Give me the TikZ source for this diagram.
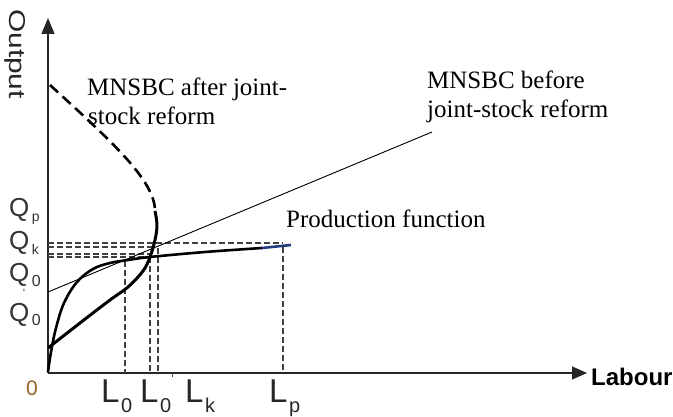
\documentclass[tikz,border=0pt]{standalone}
\usepackage{fontspec}
\setmainfont{Liberation Serif}
\newfontfamily\lsans{Liberation Sans}
\usetikzlibrary{arrows.meta}
\definecolor{pfblue}{RGB}{35,60,125}
\definecolor{origclr}{RGB}{150,100,40}
\begin{document}
\begin{tikzpicture}[x=1pt,y=-1pt,line join=round]
\tikzset{
  axisline/.style={line width=1.2pt, black!85},
  guide/.style={line width=1.1pt, dash pattern=on 6pt off 3pt, black!75},
  prodcurve/.style={line width=2.6pt},
  aftercurve/.style={line width=3pt},
  afterdash/.style={line width=2.6pt, dash pattern=on 11pt off 6pt},
  beforeline/.style={line width=0.9pt},
  serif/.style={font=\fontsize{25}{29}\selectfont, inner sep=0pt, anchor=base west},
  qlab/.style={font=\lsans\fontsize{26}{26}\selectfont, inner sep=0pt, anchor=base west, text=black!80},
  llab/.style={font=\lsans\fontsize{33}{33}\selectfont, inner sep=0pt, anchor=base west, text=black!85},
}
\useasboundingbox (0,0) rectangle (673,417);
\fill[white] (0,0) rectangle (673,417);

% axes
\coordinate (O) at (48,373);
\coordinate (ytop) at (48,18);
\coordinate (xend) at (587,373);
\draw[axisline,-{Triangle[length=16pt,width=13pt]}] (O) -- (ytop);
\draw[axisline,-{Triangle[length=15pt,width=13pt]}] (O) -- (xend);
\coordinate (tk1) at (172,373);
\coordinate (tk2) at (172,377);
\draw[line width=1pt, black!70] (tk1) -- (tk2);

% guide lines
\coordinate (h1a) at (48,243); \coordinate (h1b) at (283,243);
\coordinate (h2a) at (48,247); \coordinate (h2b) at (155,247);
\coordinate (h3a) at (48,254); \coordinate (h3b) at (150,254);
\coordinate (h4a) at (48,257); \coordinate (h4b) at (148,257);
\draw[guide] (h1a) -- (h1b);
\draw[guide] (h2a) -- (h2b);
\draw[guide] (h3a) -- (h3b);
\draw[guide] (h4a) -- (h4b);
\coordinate (v1a) at (125,261); \coordinate (v1b) at (125,373);
\coordinate (v2a) at (150,257); \coordinate (v2b) at (150,373);
\coordinate (v3a) at (158,248); \coordinate (v3b) at (158,373);
\coordinate (v4a) at (283,247); \coordinate (v4b) at (283,373);
\draw[guide] (v1a) -- (v1b);
\draw[guide] (v2a) -- (v2b);
\draw[guide] (v3a) -- (v3b);
\draw[guide] (v4a) -- (v4b);

% MNSBC before
\coordinate (b1) at (48,292);
\coordinate (b2) at (432,132);
\draw[beforeline] (b1) -- (b2);

% production function
\draw[prodcurve] plot[smooth,tension=0.6] coordinates {(48,372) (51,352) (56,328) (64,303) (77,282) (93,269) (110,263) (128,260) (150,257) (205,252) (262,248)};
\coordinate (pf1) at (262,248);
\coordinate (pf2) at (291,245);
\draw[prodcurve, pfblue] (pf1) -- (pf2);

% MNSBC after
\draw[aftercurve] plot[smooth,tension=0.6] coordinates {(48,348) (80,323) (110,300) (128,287) (143,271) (150,257) (155,240) (157,225) (155,211)};
\coordinate (d1) at (50,85);
\coordinate (d2) at (155,211);
\draw[afterdash] (d1) .. controls (110,140) and (155,180) .. (d2);

% texts
\node[serif] (afterA) at (87,96) {MNSBC after joint-};
\node[serif] (afterB) at (88,125) {stock reform};
\node[serif] (beforeA) at (427,89) {MNSBC before};
\node[serif] (beforeB) at (427,118) {joint-stock reform};
\node[serif] (pflab) at (286,228) {Production function};

\node[qlab] (qp) at (9,217) {Q\kern2.5pt\raisebox{-5pt}{\fontsize{14}{14}\selectfont p}};
\node[qlab] (qk) at (9,250) {Q\kern2.5pt\raisebox{-5pt}{\fontsize{14}{14}\selectfont k}};
\node[qlab] (q0) at (9,282) {Q\kern2.5pt\raisebox{-5pt}{\fontsize{16}{16}\selectfont 0}};
\node[qlab] (q0p) at (9,322) {Q\kern2.5pt\raisebox{-4pt}{\fontsize{16}{16}\selectfont 0}};
\node[font=\lsans\fontsize{12}{12}\selectfont, inner sep=0pt, text=black!70] (prime) at (24,293) {'};
\node[font=\lsans\fontsize{21}{21}\selectfont, inner sep=0pt, text=origclr] (orig) at (32,388) {0};

\node[llab] (l0a) at (101,402) {L\kern1.5pt\raisebox{-10pt}{\fontsize{20}{20}\selectfont 0}};
\node[llab] (l0b) at (140,402) {L\kern1.5pt\raisebox{-10pt}{\fontsize{20}{20}\selectfont 0}};
\node[llab] (lk) at (185,402) {L\kern1.5pt\raisebox{-10pt}{\fontsize{20}{20}\selectfont k}};
\node[llab] (lp) at (269,402) {L\kern1.5pt\raisebox{-10pt}{\fontsize{20}{20}\selectfont p}};

\node[font=\lsans\bfseries\fontsize{24}{24}\selectfont, inner sep=0pt, anchor=base west] (labour) at (591,385) {Labour};
\node[font=\lsans\fontsize{23}{23}\selectfont, inner sep=0pt, rotate=-90, text=black!85] (output) at (15,54) {\scalebox{1.3}[1]{Output}};
\end{tikzpicture}
\end{document}
